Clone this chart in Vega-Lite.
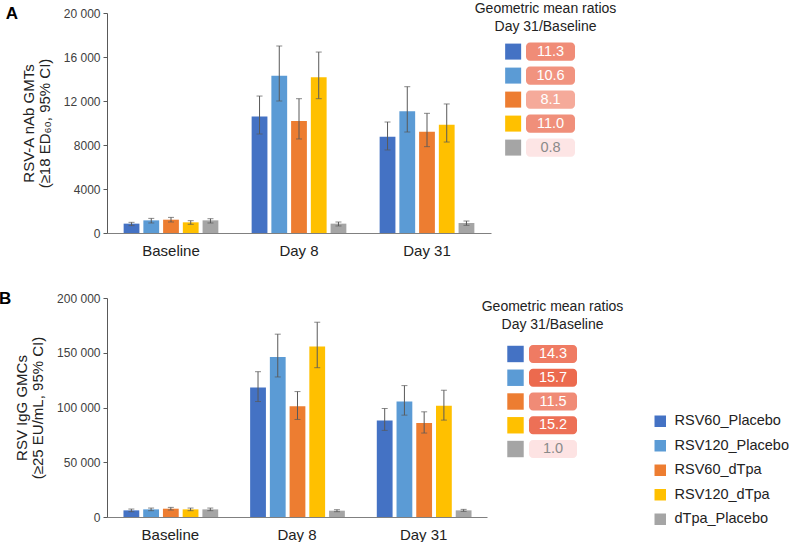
{
  "$schema": "https://vega.github.io/schema/vega-lite/v6.json",
  "background": "white",
  "padding": {"left": -1, "top": 2, "right": 0, "bottom": 0},
  "config": {
    "font": "Liberation Sans",
    "view": {"stroke": null},
    "axis": {"labelFont": "Liberation Sans", "titleFont": "Liberation Sans"},
    "title": {"font": "Liberation Sans", "color": "#222222"}
  },
  "resolve": {"scale": {"color": "independent"}, "legend": {"color": "independent"}},
  "datasets": {
    "A": [
      {"time": "Baseline", "group": "RSV60_Placebo", "gmt": 850, "lo": 670, "hi": 970},
      {"time": "Baseline", "group": "RSV120_Placebo", "gmt": 1150, "lo": 910, "hi": 1330},
      {"time": "Baseline", "group": "RSV60_dTpa", "gmt": 1210, "lo": 1000, "hi": 1420},
      {"time": "Baseline", "group": "RSV120_dTpa", "gmt": 970, "lo": 790, "hi": 1120},
      {"time": "Baseline", "group": "dTpa_Placebo", "gmt": 1150, "lo": 910, "hi": 1300},
      {"time": "Day 8", "group": "RSV60_Placebo", "gmt": 10580, "lo": 9000, "hi": 12450},
      {"time": "Day 8", "group": "RSV120_Placebo", "gmt": 14300, "lo": 12000, "hi": 17000},
      {"time": "Day 8", "group": "RSV60_dTpa", "gmt": 10180, "lo": 8550, "hi": 12210},
      {"time": "Day 8", "group": "RSV120_dTpa", "gmt": 14150, "lo": 12210, "hi": 16450},
      {"time": "Day 8", "group": "dTpa_Placebo", "gmt": 850, "lo": 640, "hi": 1000},
      {"time": "Day 31", "group": "RSV60_Placebo", "gmt": 8760, "lo": 7550, "hi": 10090},
      {"time": "Day 31", "group": "RSV120_Placebo", "gmt": 11060, "lo": 9180, "hi": 13300},
      {"time": "Day 31", "group": "RSV60_dTpa", "gmt": 9210, "lo": 7850, "hi": 10880},
      {"time": "Day 31", "group": "RSV120_dTpa", "gmt": 9850, "lo": 8270, "hi": 11730},
      {"time": "Day 31", "group": "dTpa_Placebo", "gmt": 910, "lo": 700, "hi": 1090}
    ],
    "B": [
      {"time": "Baseline", "group": "RSV60_Placebo", "gmt": 6060, "lo": 4850, "hi": 7270},
      {"time": "Baseline", "group": "RSV120_Placebo", "gmt": 6970, "lo": 5760, "hi": 8180},
      {"time": "Baseline", "group": "RSV60_dTpa", "gmt": 7580, "lo": 6360, "hi": 8790},
      {"time": "Baseline", "group": "RSV120_dTpa", "gmt": 6970, "lo": 5760, "hi": 8180},
      {"time": "Baseline", "group": "dTpa_Placebo", "gmt": 6970, "lo": 5760, "hi": 8180},
      {"time": "Day 8", "group": "RSV60_Placebo", "gmt": 118180, "lo": 105450, "hi": 132700},
      {"time": "Day 8", "group": "RSV120_Placebo", "gmt": 146060, "lo": 127880, "hi": 166970},
      {"time": "Day 8", "group": "RSV60_dTpa", "gmt": 101210, "lo": 89090, "hi": 114550},
      {"time": "Day 8", "group": "RSV120_dTpa", "gmt": 155760, "lo": 136360, "hi": 177880},
      {"time": "Day 8", "group": "dTpa_Placebo", "gmt": 5760, "lo": 4850, "hi": 6670},
      {"time": "Day 31", "group": "RSV60_Placebo", "gmt": 88180, "lo": 79090, "hi": 99090},
      {"time": "Day 31", "group": "RSV120_Placebo", "gmt": 105450, "lo": 93030, "hi": 120000},
      {"time": "Day 31", "group": "RSV60_dTpa", "gmt": 85760, "lo": 76670, "hi": 96060},
      {"time": "Day 31", "group": "RSV120_dTpa", "gmt": 101520, "lo": 88480, "hi": 115760},
      {"time": "Day 31", "group": "dTpa_Placebo", "gmt": 6060, "lo": 5150, "hi": 6970}
    ],
    "ratiosA": [
      {"group": "RSV60_Placebo", "ratio": 11.3},
      {"group": "RSV120_Placebo", "ratio": 10.6},
      {"group": "RSV60_dTpa", "ratio": 8.1},
      {"group": "RSV120_dTpa", "ratio": 11.0},
      {"group": "dTpa_Placebo", "ratio": 0.8}
    ],
    "ratiosB": [
      {"group": "RSV60_Placebo", "ratio": 14.3},
      {"group": "RSV120_Placebo", "ratio": 15.7},
      {"group": "RSV60_dTpa", "ratio": 11.5},
      {"group": "RSV120_dTpa", "ratio": 15.2},
      {"group": "dTpa_Placebo", "ratio": 1.0}
    ]
  },
  "bounds": "flush",
  "columns": 2,
  "spacing": {"row": 65, "column": 14},
  "concat": [
    {
      "width": 384,
      "height": 220,
      "data": {"name": "A"},
      "title": {"text": "A", "orient": "left", "anchor": "end", "angle": 0, "align": "right", "baseline": "middle", "fontSize": 17, "fontWeight": "bold", "offset": -9, "dy": 7, "color": "#000000"},
      "encoding": {
        "x": {"field": "time", "type": "nominal", "sort": ["Baseline", "Day 8", "Day 31"],
          "scale": {"paddingInner": 0.26, "paddingOuter": 0.13},
          "axis": {"title": null, "labelAngle": 0, "ticks": false, "labelFontSize": 15, "labelPadding": 10, "labelColor": "#222222", "domainColor": "#808080"}},
        "xOffset": {"field": "group", "type": "nominal", "sort": ["RSV60_Placebo", "RSV120_Placebo", "RSV60_dTpa", "RSV120_dTpa", "dTpa_Placebo"],
          "scale": {"paddingInner": 0.2, "paddingOuter": 0}}
      },
      "layer": [
        {
          "mark": {"type": "bar"},
          "encoding": {
            "y": {"field": "gmt", "type": "quantitative", "scale": {"domain": [0, 20000]},
              "axis": {"title": ["RSV-A nAb GMTs", "(≥18 ED₆₀, 95% CI)"], "values": [0, 4000, 8000, 12000, 16000, 20000], "grid": false, "tickSize": 4, "tickColor": "#595959", "domainColor": "#595959", "labelFontSize": 12, "labelColor": "#404040", "labelPadding": 3, "titleFontSize": 15, "titleFontWeight": "normal", "titleColor": "#222222", "titlePadding": 11, "titleLineHeight": 16,
                "labelExpr": "datum.value >= 10000 ? replace(format(datum.value, ','), ',', ' ') : format(datum.value, 'd')"}},
            "color": {"field": "group", "type": "nominal",
              "scale": {"domain": ["RSV60_Placebo", "RSV120_Placebo", "RSV60_dTpa", "RSV120_dTpa", "dTpa_Placebo"], "range": ["#4472C4", "#5B9BD5", "#ED7D31", "#FFC000", "#A5A5A5"]}, "legend": null}
          }
        },
        {
          "mark": {"type": "rule", "color": "#595959", "strokeWidth": 1},
          "encoding": {"y": {"field": "lo", "type": "quantitative"}, "y2": {"field": "hi"}}
        },
        {
          "mark": {"type": "tick", "color": "#595959", "size": 6, "thickness": 1},
          "encoding": {"y": {"field": "lo", "type": "quantitative"}}
        },
        {
          "mark": {"type": "tick", "color": "#595959", "size": 6, "thickness": 1},
          "encoding": {"y": {"field": "hi", "type": "quantitative"}}
        }
      ]
    },
    {
      "width": 71,
      "height": 220,
      "data": {"name": "ratiosA"},
      "title": {"text": ["Geometric mean ratios", "Day 31/Baseline"], "fontSize": 14, "fontWeight": "normal", "lineHeight": 18, "anchor": "middle", "offset": 0, "dx": 5, "dy": 21, "color": "#222222"},
      "encoding": {
        "y": {"field": "group", "type": "nominal", "sort": ["RSV60_Placebo", "RSV120_Placebo", "RSV60_dTpa", "RSV120_dTpa", "dTpa_Placebo"],
          "scale": {"type": "band", "range": [26.6, 146.6], "paddingInner": 0.24, "paddingOuter": 0.12}, "axis": null}
      },
      "layer": [
        {
          "mark": {"type": "point", "shape": "square", "filled": true, "opacity": 1, "size": 256},
          "encoding": {
            "x": {"datum": "swatch", "type": "nominal", "scale": {"type": "band", "domain": ["swatch"], "range": [0, 16.3], "paddingInner": 0, "paddingOuter": 0}, "axis": null},
            "color": {"field": "group", "type": "nominal", "scale": {"domain": ["RSV60_Placebo", "RSV120_Placebo", "RSV60_dTpa", "RSV120_dTpa", "dTpa_Placebo"], "range": ["#4472C4", "#5B9BD5", "#ED7D31", "#FFC000", "#A5A5A5"]}, "legend": null}
          }
        },
        {
          "mark": {"type": "rect", "cornerRadius": 4},
          "encoding": {
            "x": {"datum": "ratio", "type": "nominal", "scale": {"type": "band", "domain": ["ratio"], "range": [21, 70], "paddingInner": 0, "paddingOuter": 0}, "axis": null},
            "color": {"field": "ratio", "type": "quantitative", "scale": {"domain": [0.8, 8.1, 11.3, 14.3, 15.7], "range": ["#fde5e5", "#f5aa9a", "#f08c77", "#ef7b63", "#ec6a4e"], "interpolate": "rgb"}, "legend": null}
          }
        },
        {
          "mark": {"type": "text", "fontSize": 14.5, "baseline": "middle", "align": "center"},
          "encoding": {
            "x": {"datum": "ratio", "type": "nominal", "scale": {"type": "band", "domain": ["ratio"], "range": [21, 70], "paddingInner": 0, "paddingOuter": 0}, "axis": null},
            "text": {"field": "ratio", "type": "quantitative", "format": ".1f"},
            "color": {"condition": {"test": "datum.ratio < 2", "value": "#8a8a8a"}, "value": "#ffffff"}
          }
        }
      ],
      "resolve": {"scale": {"x": "independent", "color": "independent"}}
    },
    {
      "width": 380,
      "height": 219,
      "data": {"name": "B"},
      "title": {"text": "B", "orient": "left", "anchor": "end", "angle": 0, "align": "right", "baseline": "middle", "fontSize": 17, "fontWeight": "bold", "offset": -9, "dy": 7, "color": "#000000"},
      "encoding": {
        "x": {"field": "time", "type": "nominal", "sort": ["Baseline", "Day 8", "Day 31"],
          "scale": {"paddingInner": 0.26, "paddingOuter": 0.13},
          "axis": {"title": null, "labelAngle": 0, "ticks": false, "labelFontSize": 15, "labelPadding": 10, "labelColor": "#222222", "domainColor": "#808080"}},
        "xOffset": {"field": "group", "type": "nominal", "sort": ["RSV60_Placebo", "RSV120_Placebo", "RSV60_dTpa", "RSV120_dTpa", "dTpa_Placebo"],
          "scale": {"paddingInner": 0.2, "paddingOuter": 0}}
      },
      "layer": [
        {
          "mark": {"type": "bar"},
          "encoding": {
            "y": {"field": "gmt", "type": "quantitative", "scale": {"domain": [0, 200000]},
              "axis": {"title": ["RSV IgG GMCs", "(≥25 EU/mL, 95% CI)"], "values": [0, 50000, 100000, 150000, 200000], "grid": false, "tickSize": 4, "tickColor": "#595959", "domainColor": "#595959", "labelFontSize": 12, "labelColor": "#404040", "labelPadding": 3, "titleFontSize": 15, "titleFontWeight": "normal", "titleColor": "#222222", "titlePadding": 11, "titleLineHeight": 16,
                "labelExpr": "replace(format(datum.value, ','), ',', ' ')"}},
            "color": {"field": "group", "type": "nominal",
              "scale": {"domain": ["RSV60_Placebo", "RSV120_Placebo", "RSV60_dTpa", "RSV120_dTpa", "dTpa_Placebo"], "range": ["#4472C4", "#5B9BD5", "#ED7D31", "#FFC000", "#A5A5A5"]},
              "legend": {"orient": "none", "legendX": 546, "legendY": 116, "title": null, "symbolType": "square", "symbolSize": 132, "symbolStrokeWidth": 0, "labelFontSize": 14.5, "labelColor": "#222222", "labelOffset": 7, "rowPadding": 9.5, "padding": 0}}
          }
        },
        {
          "mark": {"type": "rule", "color": "#595959", "strokeWidth": 1},
          "encoding": {"y": {"field": "lo", "type": "quantitative"}, "y2": {"field": "hi"}}
        },
        {
          "mark": {"type": "tick", "color": "#595959", "size": 6, "thickness": 1},
          "encoding": {"y": {"field": "lo", "type": "quantitative"}}
        },
        {
          "mark": {"type": "tick", "color": "#595959", "size": 6, "thickness": 1},
          "encoding": {"y": {"field": "hi", "type": "quantitative"}}
        }
      ]
    },
    {
      "width": 71,
      "height": 219,
      "data": {"name": "ratiosB"},
      "title": {"text": ["Geometric mean ratios", "Day 31/Baseline"], "fontSize": 14, "fontWeight": "normal", "lineHeight": 18, "anchor": "middle", "offset": 0, "dx": 12, "dy": 33.5, "color": "#222222"},
      "encoding": {
        "y": {"field": "group", "type": "nominal", "sort": ["RSV60_Placebo", "RSV120_Placebo", "RSV60_dTpa", "RSV120_dTpa", "dTpa_Placebo"],
          "scale": {"type": "band", "range": [44.1, 162.9], "paddingInner": 0.24, "paddingOuter": 0.12}, "axis": null}
      },
      "layer": [
        {
          "mark": {"type": "point", "shape": "square", "filled": true, "opacity": 1, "size": 270},
          "encoding": {
            "x": {"datum": "swatch", "type": "nominal", "scale": {"type": "band", "domain": ["swatch"], "range": [2, 19], "paddingInner": 0, "paddingOuter": 0}, "axis": null},
            "color": {"field": "group", "type": "nominal", "scale": {"domain": ["RSV60_Placebo", "RSV120_Placebo", "RSV60_dTpa", "RSV120_dTpa", "dTpa_Placebo"], "range": ["#4472C4", "#5B9BD5", "#ED7D31", "#FFC000", "#A5A5A5"]}, "legend": null}
          }
        },
        {
          "mark": {"type": "rect", "cornerRadius": 4},
          "encoding": {
            "x": {"datum": "ratio", "type": "nominal", "scale": {"type": "band", "domain": ["ratio"], "range": [24, 72], "paddingInner": 0, "paddingOuter": 0}, "axis": null},
            "color": {"field": "ratio", "type": "quantitative", "scale": {"domain": [0.8, 8.1, 11.3, 14.3, 15.7], "range": ["#fde5e5", "#f5aa9a", "#f08c77", "#ef7b63", "#ec6a4e"], "interpolate": "rgb"}, "legend": null}
          }
        },
        {
          "mark": {"type": "text", "fontSize": 14.5, "baseline": "middle", "align": "center"},
          "encoding": {
            "x": {"datum": "ratio", "type": "nominal", "scale": {"type": "band", "domain": ["ratio"], "range": [24, 72], "paddingInner": 0, "paddingOuter": 0}, "axis": null},
            "text": {"field": "ratio", "type": "quantitative", "format": ".1f"},
            "color": {"condition": {"test": "datum.ratio < 2", "value": "#8a8a8a"}, "value": "#ffffff"}
          }
        }
      ],
      "resolve": {"scale": {"x": "independent", "color": "independent"}}
    }
  ]
}
